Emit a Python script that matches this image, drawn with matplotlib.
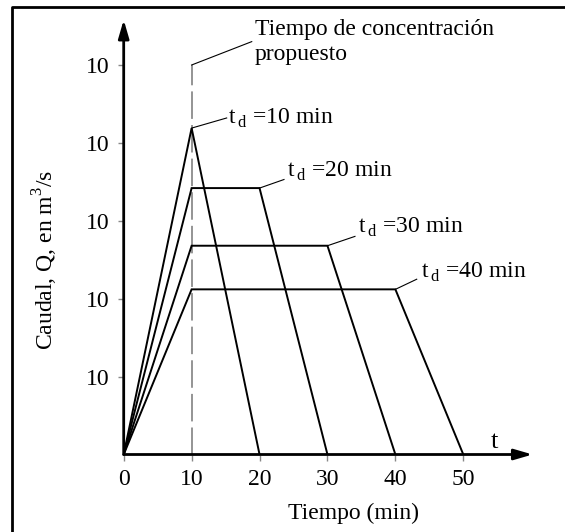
import numpy as np
import matplotlib
matplotlib.use("Agg")
import matplotlib.pyplot as plt
from matplotlib.lines import Line2D

plt.rcParams['font.family'] = ['Liberation Serif', 'DejaVu Serif']
plt.rcParams['mathtext.fontset'] = 'custom'
plt.rcParams['mathtext.rm'] = 'Liberation Serif'

# duration of rainfall (min) and the hydrograph for each one
durations = [10, 20, 30, 40]
peak_q = [4.19, 3.42, 2.68, 2.12]
tc = 10
x_ticks = [0, 10, 20, 30, 40, 50]
y_ticks = [1, 2, 3, 4, 5]
y_tick_labels = ['10', '10', '10', '10', '10']
label_pos = [(15.37, 4.32), (24.0, 3.63), (34.54, 2.91), (43.77, 2.34)]
leader_end = [(15.16, 4.32), (23.6, 3.53), (34.05, 2.80), (43.14, 2.25)]

W, H = 565, 532
fig = plt.figure(figsize=(W / 100, H / 100), dpi=100)

# axes placed so data units land where the reference has them
px_per_min = 6.792
px_per_q = 77.9
x0_px, y0_px = 123.7, 454.5
xmax, ymax = 60.2, 5.58
ax = fig.add_axes([x0_px / W, (H - y0_px) / H,
                   xmax * px_per_min / W, ymax * px_per_q / H])
ax.set_xlim(0, xmax)
ax.set_ylim(0, ymax)
for s in ax.spines.values():
    s.set_visible(False)
ax.patch.set_visible(False)

# axes with arrow heads
arrow = dict(arrowstyle='-|>,head_length=1.1,head_width=0.32', color='black',
             lw=2, shrinkA=0, shrinkB=0, mutation_scale=10)
ax.annotate('', xy=(xmax, 0), xytext=(0, 0), arrowprops=arrow, annotation_clip=False)
ax.annotate('', xy=(0, ymax), xytext=(0, 0), arrowprops=arrow, annotation_clip=False)

# dashed line at the proposed concentration time
ax.plot([tc, tc], [0, y_ticks[-1]], color='#777777', lw=1.1, dashes=(18, 4))

for td, qp, (tx, ty), (lx, ly) in zip(durations, peak_q, label_pos, leader_end):
    t = [0, tc, td, td + tc]
    q = [0, qp, qp, 0]
    ax.plot(t, q, color='black', lw=1.4, solid_joinstyle='miter')
    ax.plot([td, lx], [qp, ly], color='black', lw=0.8)
    ax.text(tx, ty, r'$\mathrm{t}_{\,\mathrm{d}}$ =%d min' % td, fontsize=17,
            va='center', ha='left')

ax.plot([tc, 18.85], [y_ticks[-1], 5.30], color='black', lw=0.8, clip_on=False)
ax.text(19.33, 5.29, 'Tiempo de concentración\npropuesto', fontsize=17,
        va='center', ha='left', linespacing=1.25)

ax.text(54.0, 0.16, 't', fontsize=19, va='center', ha='left')

ax.set_xticks(x_ticks)
ax.set_yticks(y_ticks)
ax.set_yticklabels(y_tick_labels)
ax.tick_params(axis='both', direction='out', length=4.3, width=1, color='#888888',
               labelsize=17)
ax.tick_params(axis='x', pad=6)
ax.tick_params(axis='y', pad=6)

fig.text(353.5 / W, 1 - 513 / H, 'Tiempo (min)', fontsize=17, ha='center', va='center')
fig.text(45 / W, 1 - 260 / H, 'Caudal, Q, en m$^3$/s', fontsize=17, ha='center',
         va='center', rotation=90)

# left and top frame lines of the original figure
fig.add_artist(Line2D([11.5 / W, 11.5 / W, 1], [0, 1 - 6.7 / H, 1 - 6.7 / H],
                      color='black', lw=2, transform=fig.transFigure))

fig.savefig('out.png', dpi=100)
